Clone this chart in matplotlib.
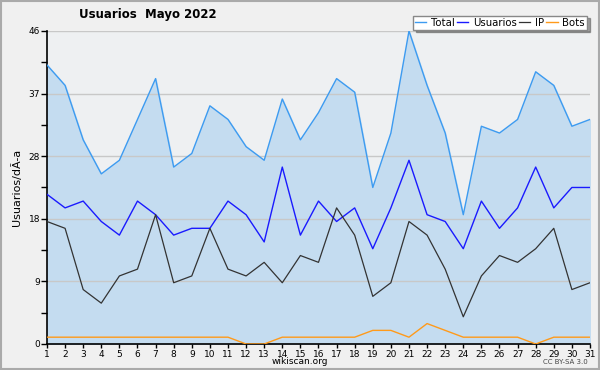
import matplotlib
matplotlib.use('Agg')
import matplotlib.pyplot as plt
from matplotlib.patches import Rectangle
import numpy as np

# Data
days = list(range(1, 32))
total = [41, 38, 30, 25, 27, 33, 39, 26, 28, 35, 33, 29, 27, 36, 30, 34,
         39, 37, 23, 31, 46, 38, 31, 19, 32, 31, 33, 40, 38, 32, 33]
usuarios = [22, 20, 21, 18, 16, 21, 19, 16, 17, 17, 21, 19, 15, 26, 16, 21,
            18, 20, 14, 20, 27, 19, 18, 14, 21, 17, 20, 26, 20, 23, 23]
ip = [18, 17, 8, 6, 10, 11, 19, 9, 10, 17, 11, 10, 12, 9, 13, 12,
      20, 16, 7, 9, 18, 16, 11, 4, 10, 13, 12, 14, 17, 8, 9]
bots = [1, 1, 1, 1, 1, 1, 1, 1, 1, 1, 1, 0, 0, 1, 1, 1,
        1, 1, 2, 2, 1, 3, 2, 1, 1, 1, 1, 0, 1, 1, 1]
ymax = 46
ytick_labels = ['0', '9', '18', '28', '37', '46']

plt.rcParams['font.family'] = ['DejaVu Sans']

fig = plt.figure(figsize=(6, 3.7), dpi=100, facecolor='#f0f0f0')
ax = fig.add_axes([0.0783, 0.0703, 0.905, 0.846])
ax.set_facecolor('#eef0f2')

ax.fill_between(days, total, 0, color='#c4dcf0', zorder=1)
ax.plot(days, total, color='#3d9bf0', lw=1, label='Total', zorder=3)
ax.plot(days, usuarios, color='#1a1aff', lw=1, label='Usuarios', zorder=3)
ax.plot(days, ip, color='#333333', lw=0.9, label='IP', zorder=3)
ax.plot(days, bots, color='#ff9a1a', lw=1, label='Bots', zorder=3)

ax.set_xlim(1, 31)
ax.set_ylim(0, ymax)
ax.set_yticks(np.linspace(0, ymax, 6))
ax.set_yticklabels(ytick_labels)
ax.set_yticks(np.linspace(0, ymax, 11), minor=True)
ax.set_xticks(days)
ax.grid(axis='y', which='major', color='#c8c8c8', lw=1, zorder=2)

for s in ['top', 'right']:
    ax.spines[s].set_visible(False)
ax.spines['left'].set_linewidth(1.2)
ax.spines['bottom'].set_linewidth(1.2)
ax.tick_params(axis='both', labelsize=6.5, length=4, width=1, colors='black', pad=1)
ax.tick_params(axis='x', length=3)
ax.tick_params(axis='y', which='minor', length=4, width=1)

ax.set_ylabel('Usuarios/dÃ-a', fontsize=8, labelpad=5)

fig.text(0.247, 0.962, 'Usuarios  Mayo 2022', fontsize=8.5, fontweight='bold',
         ha='center', va='center')
fig.text(0.5, 0.022, 'wikiscan.org', fontsize=6.5, ha='center', va='center')
fig.text(0.98, 0.022, 'CC BY-SA 3.0', fontsize=5, ha='right', va='center',
         color='#444444')

leg = fig.legend(loc='upper right', bbox_to_anchor=(0.978, 0.958), ncol=4,
                 fontsize=7.3, frameon=True, fancybox=False, shadow=True,
                 handlelength=1.1, handletextpad=0.45, columnspacing=0.25,
                 borderpad=0.2, borderaxespad=0)
leg.get_frame().set_edgecolor('#888888')
leg.get_frame().set_facecolor('white')
leg.get_frame().set_linewidth(1)

# figure border
fig.patches.append(Rectangle((0.002, 0.003), 0.996, 0.994, transform=fig.transFigure,
                             fill=False, edgecolor='#aaaaaa', lw=1.5))

fig.savefig('out.png', dpi=100, facecolor=fig.get_facecolor())
